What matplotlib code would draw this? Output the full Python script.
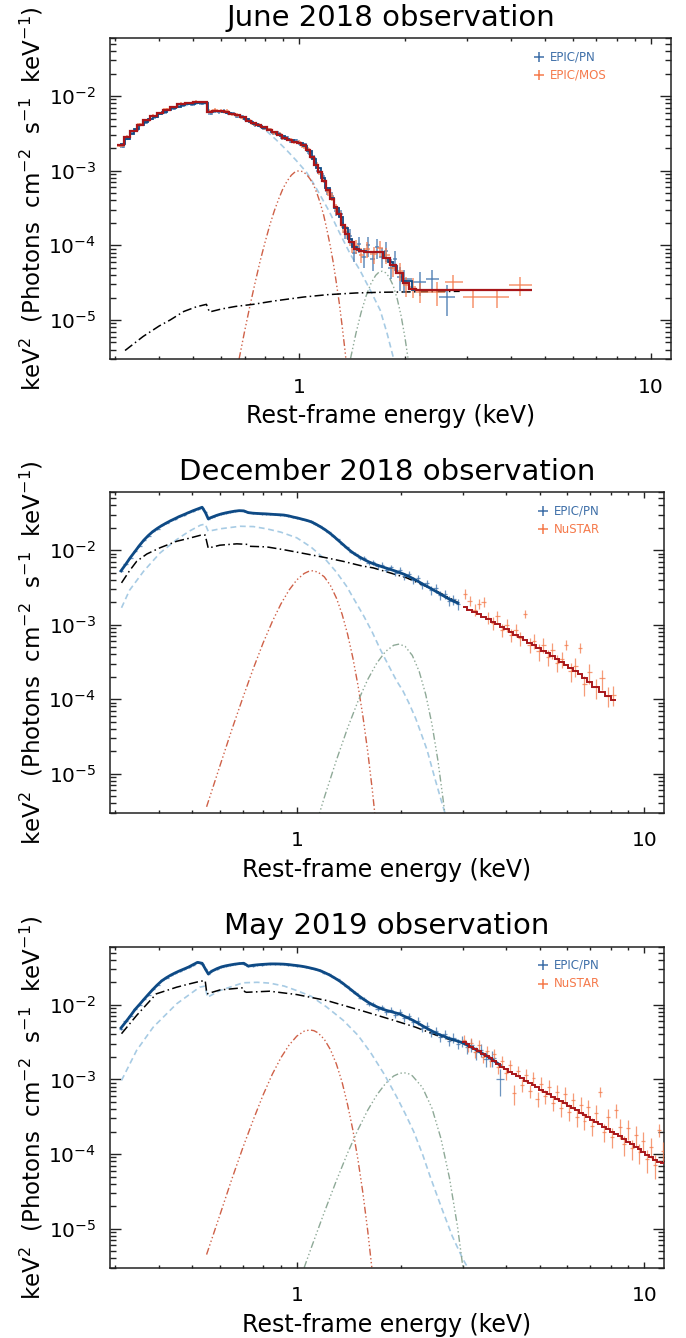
import numpy as np
import matplotlib
matplotlib.use('Agg')
import matplotlib.pyplot as plt
from matplotlib.ticker import LogLocator, NullFormatter

plt.rcParams['font.family'] = ['DejaVu Sans']
plt.rcParams['mathtext.default'] = 'regular'

# ---------------------------------------------------------------- June 2018
jun_pn_e = [0.315, 0.325, 0.335, 0.345, 0.356, 0.367, 0.378, 0.390, 0.402, 0.414, 0.427, 0.440, 0.454, 0.468, 0.482, 0.497, 0.512, 0.528, 0.544,
            0.560, 0.576, 0.593, 0.611, 0.629, 0.648, 0.667, 0.687, 0.708, 0.729, 0.751, 0.773, 0.796, 0.820, 0.845, 0.870, 0.896, 0.923, 0.950, 0.979, 1.008,
            1.038, 1.069, 1.101, 1.134, 1.168, 1.203, 1.239, 1.276, 1.314, 1.354, 1.394, 1.436, 1.479, 1.524, 1.570, 1.617, 1.665, 1.715, 1.767, 1.820, 1.875, 1.930, 1.990,
            2.210, 2.380, 2.630]
jun_pn_f = [2.1e-3, 2.65e-3, 3.2e-3, 3.5e-3, 4.1e-3, 4.4e-3, 4.95e-3, 5.2e-3, 5.8e-3, 6.0e-3, 6.55e-3, 6.7e-3, 7.3e-3, 7.4e-3, 7.8e-3, 7.7e-3, 8.1e-3, 7.9e-3, 8.1e-3,
            5.8e-3, 6.3e-3, 6.1e-3, 6.3e-3, 5.85e-3, 5.9e-3, 5.3e-3, 5.35e-3, 4.75e-3, 4.6e-3, 4.1e-3, 4.05e-3, 3.65e-3, 3.6e-3, 3.2e-3, 3.2e-3, 2.75e-3, 2.8e-3, 2.45e-3, 2.55e-3, 2.25e-3,
            2.25e-3, 1.75e-3, 1.5e-3, 1.0e-3, 8.6e-4, 5.4e-4, 4.6e-4, 2.9e-4, 2.6e-4, 1.5e-4, 1.35e-4, 8.0e-5, 1.05e-4, 7.0e-5, 1.0e-4, 6.5e-5, 9.5e-5, 7.0e-5, 8.5e-5, 5.0e-5, 6.5e-5, 3.8e-5, 3.5e-5,
            3.24e-5, 3.59e-5, 2.04e-5]
jun_pn_err = [0.04, 0.04, 0.04, 0.04, 0.04, 0.04, 0.04, 0.04, 0.04, 0.04, 0.04, 0.04, 0.04, 0.04, 0.04, 0.04, 0.04, 0.04, 0.04,
              0.05, 0.05, 0.05, 0.05, 0.05, 0.05, 0.05, 0.05, 0.05, 0.05, 0.05, 0.05, 0.05, 0.05, 0.05, 0.05, 0.05, 0.05, 0.05, 0.05, 0.05,
              0.06, 0.07, 0.08, 0.1, 0.1, 0.12, 0.13, 0.15, 0.16, 0.2, 0.22, 0.25, 0.25, 0.3, 0.3, 0.3, 0.3, 0.3, 0.3, 0.3, 0.3, 0.35, 0.35,
              0.35, 0.3, 0.45]
jun_pn_mod = [2.25e-3, 2.7e-3, 3.15e-3, 3.6e-3, 4.05e-3, 4.5e-3, 4.9e-3, 5.3e-3, 5.7e-3, 6.1e-3, 6.5e-3, 6.85e-3, 7.2e-3, 7.5e-3, 7.75e-3, 7.9e-3, 8.0e-3, 8.05e-3, 8.0e-3,
              6.1e-3, 6.25e-3, 6.3e-3, 6.2e-3, 6.0e-3, 5.75e-3, 5.5e-3, 5.25e-3, 4.9e-3, 4.55e-3, 4.25e-3, 4.0e-3, 3.78e-3, 3.55e-3, 3.35e-3, 3.1e-3, 2.9e-3, 2.7e-3, 2.55e-3, 2.45e-3, 2.33e-3,
              2.15e-3, 1.85e-3, 1.45e-3, 1.08e-3, 8.0e-4, 5.9e-4, 4.3e-4, 3.2e-4, 2.4e-4, 1.7e-4, 1.2e-4, 9.5e-5, 8.6e-5, 8.3e-5, 8.2e-5, 8.2e-5, 8.2e-5, 8.1e-5, 6.8e-5, 6.0e-5, 5.3e-5, 4.3e-5, 3.3e-5,
              2.55e-5, 2.5e-5, 2.5e-5]

jun_mos_e = [0.310, 0.324, 0.338, 0.353, 0.369, 0.385, 0.402, 0.420, 0.440, 0.462, 0.486, 0.510, 0.535,
             0.556, 0.578, 0.600, 0.622, 0.645, 0.668, 0.692, 0.717, 0.742, 0.768, 0.795, 0.822, 0.850, 0.880, 0.910, 0.940, 0.970, 1.000,
             1.030, 1.060, 1.090, 1.120, 1.150, 1.180, 1.210, 1.240, 1.270, 1.300, 1.335, 1.370, 1.410, 1.450, 1.500, 1.560, 1.630, 1.700, 1.770, 1.850, 1.930, 2.010, 2.100, 2.200,
             2.460, 2.740, 3.110, 3.650, 4.250]
jun_mos_f = [2.15e-3, 2.85e-3, 3.4e-3, 4.2e-3, 4.7e-3, 5.45e-3, 5.9e-3, 6.75e-3, 7.0e-3, 7.95e-3, 8.1e-3, 8.45e-3, 8.2e-3,
             6.3e-3, 6.6e-3, 6.3e-3, 6.35e-3, 5.7e-3, 5.6e-3, 5.1e-3, 4.8e-3, 4.2e-3, 4.15e-3, 3.7e-3, 3.6e-3, 3.2e-3, 3.1e-3, 2.7e-3, 2.65e-3, 2.4e-3, 2.45e-3,
             2.1e-3, 1.95e-3, 1.5e-3, 1.25e-3, 9.0e-4, 7.6e-4, 5.2e-4, 4.5e-4, 3.1e-4, 2.8e-4, 1.75e-4, 1.5e-4, 1.0e-4, 9.8e-5, 7.5e-5, 9.0e-5, 7.6e-5, 9.2e-5, 7.4e-5, 5.0e-5, 4.6e-5, 2.9e-5, 2.8e-5, 2.4e-5,
             2.38e-5, 3.24e-5, 2.04e-5, 2.04e-5, 2.92e-5]
jun_mos_err = [0.04, 0.04, 0.04, 0.04, 0.04, 0.04, 0.04, 0.04, 0.04, 0.04, 0.04, 0.04, 0.04,
               0.05, 0.05, 0.05, 0.05, 0.05, 0.05, 0.05, 0.05, 0.05, 0.05, 0.05, 0.05, 0.05, 0.05, 0.05, 0.05, 0.05, 0.05,
               0.06, 0.06, 0.07, 0.08, 0.09, 0.1, 0.11, 0.12, 0.14, 0.15, 0.17, 0.2, 0.2, 0.22, 0.22, 0.25, 0.25, 0.25, 0.25, 0.25, 0.28, 0.3, 0.3, 0.3,
               0.35, 0.25, 0.28, 0.28, 0.28]
jun_mos_mod = [2.2e-3, 2.8e-3, 3.45e-3, 4.1e-3, 4.75e-3, 5.35e-3, 6.0e-3, 6.6e-3, 7.15e-3, 7.8e-3, 8.2e-3, 8.3e-3, 8.35e-3,
               6.2e-3, 6.4e-3, 6.4e-3, 6.2e-3, 5.8e-3, 5.5e-3, 5.2e-3, 4.7e-3, 4.3e-3, 4.05e-3, 3.8e-3, 3.5e-3, 3.3e-3, 3.0e-3, 2.75e-3, 2.55e-3, 2.45e-3, 2.35e-3,
               2.2e-3, 1.9e-3, 1.55e-3, 1.2e-3, 9.5e-4, 7.2e-4, 5.5e-4, 4.2e-4, 3.3e-4, 2.65e-4, 1.9e-4, 1.4e-4, 1.1e-4, 9.0e-5, 8.4e-5, 8.2e-5, 8.2e-5, 8.2e-5, 6.7e-5, 5.4e-5, 4.2e-5, 3.1e-5, 2.6e-5, 2.55e-5,
               2.5e-5, 2.5e-5, 2.5e-5, 2.5e-5, 2.5e-5]

jun_soft_e = [0.31, 0.35, 0.40, 0.45, 0.50, 0.545, 0.556, 0.60, 0.65, 0.70, 0.75, 0.80, 0.86, 0.92, 0.98, 1.05, 1.10, 1.16, 1.22, 1.30, 1.40, 1.49, 1.60, 1.70, 1.78, 1.85, 1.88]
jun_soft_f = [2.1e-3, 3.9e-3, 5.8e-3, 7.1e-3, 7.8e-3, 7.9e-3, 6.0e-3, 6.2e-3, 5.6e-3, 5.0e-3, 4.2e-3, 3.55e-3, 2.6e-3, 1.9e-3, 1.38e-3, 9.5e-4, 6.7e-4, 4.3e-4, 2.8e-4, 1.5e-4, 7.5e-5, 4.6e-5, 2.4e-5, 1.35e-5, 6.5e-6, 3.2e-6, 2.5e-6]
jun_g1_e = [0.675, 0.70, 0.725, 0.75, 0.775, 0.80, 0.825, 0.85, 0.875, 0.90, 0.925, 0.95, 0.975, 1.00, 1.025, 1.05, 1.075, 1.10, 1.125, 1.15, 1.175, 1.20, 1.225, 1.25, 1.275, 1.30, 1.325, 1.35, 1.37]
jun_g1_f = [3.0e-6, 7.1e-6, 1.56e-5, 3.2e-5, 6.2e-5, 1.1e-4, 1.86e-4, 2.9e-4, 4.2e-4, 5.8e-4, 7.3e-4, 8.7e-4, 9.7e-4, 1.0e-3, 9.7e-4, 8.9e-4, 7.7e-4, 6.4e-4, 4.9e-4, 3.6e-4, 2.5e-4, 1.6e-4, 1.0e-4, 5.9e-5, 3.2e-5, 1.7e-5, 8.3e-6, 3.9e-6, 2.0e-6]
jun_g2_e = [1.40, 1.45, 1.50, 1.55, 1.60, 1.65, 1.685, 1.72, 1.76, 1.80, 1.85, 1.90, 1.95, 2.00, 2.06]
jun_g2_f = [3.06e-6, 6.6e-6, 1.26e-5, 2.1e-5, 3.08e-5, 3.96e-5, 4.36e-5, 4.5e-5, 4.3e-5, 3.8e-5, 2.9e-5, 1.92e-5, 1.12e-5, 5.7e-6, 2.2e-6]
jun_pl_e = [0.32, 0.36, 0.40, 0.43, 0.47, 0.51, 0.545, 0.556, 0.60, 0.66, 0.74, 0.85, 1.03, 1.20, 1.45, 1.70, 1.94, 2.40, 2.86]
jun_pl_f = [3.9e-6, 6.0e-6, 8.3e-6, 1.0e-5, 1.3e-5, 1.5e-5, 1.62e-5, 1.28e-5, 1.4e-5, 1.52e-5, 1.62e-5, 1.8e-5, 2.03e-5, 2.18e-5, 2.3e-5, 2.35e-5, 2.37e-5, 2.4e-5, 2.42e-5]

# ------------------------------------------------------------ December 2018
dec_pn_e = [0.312, 0.322, 0.332, 0.342, 0.352, 0.363, 0.374, 0.385, 0.397, 0.409, 0.421, 0.434, 0.447, 0.460, 0.474, 0.488, 0.503, 0.518, 0.534, 0.546,
            0.556, 0.572, 0.589, 0.607, 0.625, 0.644, 0.663, 0.683, 0.704, 0.725, 0.747, 0.769, 0.792, 0.816, 0.840, 0.866, 0.892, 0.918, 0.946, 0.974,
            1.003, 1.034, 1.065, 1.097, 1.130, 1.163, 1.198, 1.234, 1.271, 1.309, 1.349, 1.389, 1.431, 1.474, 1.518, 1.563, 1.610, 1.659, 1.708, 1.760,
            1.812, 1.867, 1.923, 1.981, 2.040, 2.101, 2.164, 2.229, 2.296, 2.365, 2.436, 2.509, 2.584, 2.662, 2.742, 2.824, 2.909]
dec_pn_f = [5.2e-3, 6.6e-3, 7.9e-3, 9.8e-3, 1.13e-2, 1.39e-2, 1.56e-2, 1.8e-2, 1.95e-2, 2.17e-2, 2.3e-2, 2.52e-2, 2.65e-2, 2.87e-2, 3.0e-2, 3.22e-2, 3.37e-2, 3.6e-2, 3.75e-2, 3.25e-2,
            2.62e-2, 2.82e-2, 2.93e-2, 3.1e-2, 3.15e-2, 3.3e-2, 3.33e-2, 3.42e-2, 3.36e-2, 3.22e-2, 3.13e-2, 3.14e-2, 3.08e-2, 3.1e-2, 3.03e-2, 3.04e-2, 2.98e-2, 2.99e-2, 2.88e-2, 2.82e-2,
            2.7e-2, 2.64e-2, 2.51e-2, 2.44e-2, 2.25e-2, 2.12e-2, 1.91e-2, 1.77e-2, 1.55e-2, 1.41e-2, 1.21e-2, 1.11e-2, 9.5e-3, 9.0e-3, 7.9e-3, 7.8e-3, 6.8e-3, 6.9e-3, 6.1e-3, 6.4e-3,
            5.5e-3, 5.9e-3, 5.0e-3, 5.4e-3, 4.5e-3, 4.8e-3, 4.0e-3, 4.2e-3, 3.4e-3, 3.6e-3, 2.9e-3, 3.1e-3, 2.5e-3, 2.6e-3, 2.1e-3, 2.2e-3, 1.9e-3]
dec_pn_err = [0.03, 0.03, 0.03, 0.03, 0.03, 0.03, 0.03, 0.03, 0.03, 0.03, 0.03, 0.03, 0.03, 0.03, 0.03, 0.03, 0.03, 0.03, 0.03, 0.03,
              0.03, 0.03, 0.03, 0.03, 0.03, 0.03, 0.03, 0.03, 0.03, 0.03, 0.03, 0.03, 0.03, 0.03, 0.03, 0.03, 0.03, 0.03, 0.03, 0.03,
              0.03, 0.03, 0.03, 0.03, 0.03, 0.03, 0.03, 0.03, 0.03, 0.03, 0.03, 0.03, 0.04, 0.05, 0.05, 0.06, 0.06, 0.07, 0.07, 0.08,
              0.08, 0.09, 0.09, 0.1, 0.1, 0.1, 0.11, 0.11, 0.12, 0.12, 0.13, 0.13, 0.14, 0.14, 0.15, 0.15, 0.16]
dec_pn_mod = [5.3e-3, 6.5e-3, 8.0e-3, 9.6e-3, 1.15e-2, 1.37e-2, 1.58e-2, 1.78e-2, 1.97e-2, 2.15e-2, 2.32e-2, 2.5e-2, 2.67e-2, 2.85e-2, 3.02e-2, 3.2e-2, 3.4e-2, 3.58e-2, 3.78e-2, 3.2e-2,
              2.65e-2, 2.8e-2, 2.95e-2, 3.08e-2, 3.18e-2, 3.27e-2, 3.35e-2, 3.4e-2, 3.38e-2, 3.2e-2, 3.15e-2, 3.12e-2, 3.1e-2, 3.08e-2, 3.05e-2, 3.02e-2, 3.0e-2, 2.97e-2, 2.9e-2, 2.8e-2,
              2.72e-2, 2.62e-2, 2.53e-2, 2.42e-2, 2.27e-2, 2.1e-2, 1.93e-2, 1.75e-2, 1.57e-2, 1.39e-2, 1.23e-2, 1.09e-2, 9.7e-3, 8.8e-3, 8.1e-3, 7.5e-3, 7.0e-3, 6.6e-3, 6.3e-3, 6.0e-3,
              5.75e-3, 5.5e-3, 5.25e-3, 5.0e-3, 4.75e-3, 4.45e-3, 4.15e-3, 3.85e-3, 3.55e-3, 3.3e-3, 3.05e-3, 2.82e-3, 2.6e-3, 2.4e-3, 2.22e-3, 2.07e-3, 1.95e-3]

dec_nu_e = [3.05, 3.15, 3.25, 3.35, 3.45, 3.56, 3.67, 3.78, 3.90, 4.02, 4.14, 4.27, 4.40, 4.54, 4.68, 4.82,
            4.97, 5.12, 5.28, 5.44, 5.61, 5.78, 5.96, 6.14, 6.33, 6.53, 6.73, 6.94, 7.25, 7.55, 7.85, 8.15]
dec_nu_f = [2.6e-3, 2.1e-3, 1.6e-3, 1.9e-3, 2.05e-3, 1.25e-3, 1.05e-3, 1.3e-3, 8.6e-4, 1.0e-3, 7.3e-4, 8.6e-4, 6.6e-4, 1.4e-3, 5.4e-4, 6.1e-4,
            4.4e-4, 5.4e-4, 3.7e-4, 4.6e-4, 3.1e-4, 3.5e-4, 5.4e-4, 2.4e-4, 2.8e-4, 4.9e-4, 1.6e-4, 2.3e-4, 1.45e-4, 1.9e-4, 1.12e-4, 1.15e-4]
dec_nu_err = [0.15, 0.15, 0.18, 0.15, 0.15, 0.18, 0.2, 0.18, 0.2, 0.2, 0.2, 0.2, 0.22, 0.12, 0.22, 0.22,
              0.25, 0.22, 0.25, 0.25, 0.25, 0.25, 0.15, 0.28, 0.28, 0.15, 0.3, 0.3, 0.3, 0.3, 0.3, 0.3]
dec_nu_mod = [1.75e-3, 1.6e-3, 1.5e-3, 1.39e-3, 1.29e-3, 1.19e-3, 1.1e-3, 1.02e-3, 9.4e-4, 8.7e-4, 8.0e-4, 7.4e-4, 6.8e-4, 6.25e-4, 5.75e-4, 5.3e-4,
              4.9e-4, 4.5e-4, 4.15e-4, 3.8e-4, 3.5e-4, 3.2e-4, 2.9e-4, 2.62e-4, 2.37e-4, 2.15e-4, 1.93e-4, 1.72e-4, 1.45e-4, 1.25e-4, 1.1e-4, 9.9e-5]

dec_soft_e = [0.313, 0.33, 0.362, 0.404, 0.451, 0.49, 0.528, 0.545, 0.556, 0.601, 0.687, 0.75, 0.819, 0.90, 1.0, 1.1, 1.22, 1.30, 1.39, 1.47,
              1.56, 1.65, 1.74, 1.84, 1.94, 2.02, 2.10, 2.20, 2.30, 2.37, 2.50, 2.60, 2.68]
dec_soft_f = [1.69e-3, 2.9e-3, 5.2e-3, 9.2e-3, 1.39e-2, 1.8e-2, 2.17e-2, 2.25e-2, 1.8e-2, 1.94e-2, 2.1e-2, 2.08e-2, 1.94e-2, 1.75e-2, 1.47e-2, 1.1e-2, 7.2e-3, 5.1e-3, 3.3e-3, 2.1e-3,
              1.3e-3, 7.9e-4, 4.65e-4, 2.8e-4, 1.75e-4, 1.3e-4, 9.0e-5, 5.5e-5, 3.1e-5, 2.1e-5, 8.5e-6, 4.5e-6, 2.8e-6]
dec_g1_e = [0.55, 0.60, 0.65, 0.70, 0.75, 0.80, 0.85, 0.90, 0.95, 1.00, 1.05, 1.08, 1.11, 1.15, 1.20, 1.25, 1.30, 1.35, 1.40, 1.45, 1.50, 1.55, 1.60, 1.65, 1.70]
dec_g1_f = [3.6e-6, 1.25e-5, 3.9e-5, 1.06e-4, 2.6e-4, 5.7e-4, 1.1e-3, 1.9e-3, 2.92e-3, 4.0e-3, 4.88e-3, 5.19e-3, 5.3e-3, 5.1e-3, 4.4e-3, 3.36e-3, 2.29e-3, 1.39e-3, 7.5e-4, 3.6e-4, 1.54e-4, 5.9e-5, 2.0e-5, 6.0e-6, 1.6e-6]
dec_g2_e = [1.15, 1.20, 1.30, 1.40, 1.50, 1.60, 1.70, 1.80, 1.90, 1.97, 2.05, 2.15, 2.25, 2.35, 2.45, 2.55, 2.65, 2.70]
dec_g2_f = [2.5e-6, 4.8e-6, 1.52e-5, 4.1e-5, 9.4e-5, 1.84e-4, 3.07e-4, 4.37e-4, 5.3e-4, 5.5e-4, 5.13e-4, 3.88e-4, 2.37e-4, 1.16e-4, 4.6e-5, 1.47e-5, 3.8e-6, 1.8e-6]
dec_pl_e = [0.313, 0.33, 0.346, 0.37, 0.404, 0.451, 0.49, 0.528, 0.545, 0.556, 0.601, 0.672, 0.72, 0.733, 0.819, 0.915, 1.09, 1.22, 1.36, 1.53, 1.66, 2.07, 2.50, 2.92]
dec_pl_f = [3.65e-3, 5.3e-3, 7.1e-3, 8.9e-3, 1.08e-2, 1.32e-2, 1.45e-2, 1.59e-2, 1.6e-2, 1.07e-2, 1.17e-2, 1.22e-2, 1.2e-2, 1.13e-2, 1.11e-2, 1.02e-2, 8.75e-3, 7.9e-3, 7.1e-3, 6.2e-3, 5.8e-3, 4.27e-3, 2.9e-3, 1.97e-3]

# ----------------------------------------------------------------- May 2019
may_pn_e = [0.312, 0.322, 0.332, 0.342, 0.352, 0.363, 0.374, 0.385, 0.397, 0.409, 0.421, 0.434, 0.447, 0.460, 0.474, 0.488, 0.503, 0.518, 0.534, 0.546,
            0.556, 0.572, 0.589, 0.607, 0.625, 0.644, 0.663, 0.683, 0.704, 0.725, 0.747, 0.769, 0.792, 0.816, 0.840, 0.866, 0.892, 0.918, 0.946, 0.974,
            1.003, 1.034, 1.065, 1.097, 1.130, 1.163, 1.198, 1.234, 1.271, 1.309, 1.349, 1.389, 1.431, 1.474, 1.518, 1.563, 1.610, 1.659, 1.708, 1.760,
            1.812, 1.867, 1.923, 1.981, 2.040, 2.101, 2.164, 2.229, 2.296, 2.365, 2.436, 2.509, 2.584, 2.662, 2.742, 2.824, 2.909,
            2.996, 3.086, 3.180, 3.280, 3.380, 3.500, 3.650, 3.850]
may_pn_f = [4.8e-3, 6.0e-3, 7.0e-3, 8.8e-3, 9.8e-3, 1.2e-2, 1.36e-2, 1.62e-2, 1.83e-2, 2.12e-2, 2.28e-2, 2.52e-2, 2.66e-2, 2.87e-2, 3.0e-2, 3.23e-2, 3.42e-2, 3.72e-2, 3.57e-2, 3.05e-2,
            2.57e-2, 2.88e-2, 3.02e-2, 3.25e-2, 3.3e-2, 3.45e-2, 3.47e-2, 3.59e-2, 3.57e-2, 3.33e-2, 3.35e-2, 3.46e-2, 3.44e-2, 3.53e-2, 3.5e-2, 3.56e-2, 3.49e-2, 3.53e-2, 3.43e-2, 3.43e-2,
            3.32e-2, 3.31e-2, 3.17e-2, 3.13e-2, 2.97e-2, 2.91e-2, 2.69e-2, 2.58e-2, 2.33e-2, 2.2e-2, 1.95e-2, 1.81e-2, 1.57e-2, 1.46e-2, 1.25e-2, 1.21e-2, 1.03e-2, 1.03e-2, 8.9e-3, 9.2e-3,
            8.0e-3, 8.6e-3, 7.4e-3, 8.0e-3, 6.6e-3, 7.0e-3, 5.8e-3, 6.1e-3, 4.9e-3, 5.2e-3, 4.2e-3, 4.5e-3, 3.7e-3, 4.0e-3, 3.3e-3, 3.6e-3, 3.0e-3,
            3.3e-3, 2.7e-3, 2.9e-3, 2.3e-3, 2.5e-3, 1.9e-3, 1.95e-3, 1.0e-3]
may_pn_err = [0.03, 0.03, 0.03, 0.03, 0.03, 0.03, 0.03, 0.03, 0.03, 0.03, 0.03, 0.03, 0.03, 0.03, 0.03, 0.03, 0.03, 0.03, 0.03, 0.03,
              0.03, 0.03, 0.03, 0.03, 0.03, 0.03, 0.03, 0.03, 0.03, 0.03, 0.03, 0.03, 0.03, 0.03, 0.03, 0.03, 0.03, 0.03, 0.03, 0.03,
              0.03, 0.03, 0.03, 0.03, 0.03, 0.03, 0.03, 0.03, 0.03, 0.03, 0.03, 0.03, 0.04, 0.04, 0.05, 0.05, 0.06, 0.06, 0.07, 0.07,
              0.08, 0.08, 0.09, 0.09, 0.1, 0.1, 0.11, 0.11, 0.12, 0.12, 0.13, 0.13, 0.14, 0.14, 0.15, 0.15, 0.16,
              0.17, 0.18, 0.19, 0.2, 0.21, 0.22, 0.24, 0.4]
may_pn_mod = [4.9e-3, 5.9e-3, 7.1e-3, 8.6e-3, 1.0e-2, 1.18e-2, 1.38e-2, 1.6e-2, 1.85e-2, 2.1e-2, 2.3e-2, 2.5e-2, 2.68e-2, 2.85e-2, 3.02e-2, 3.2e-2, 3.45e-2, 3.7e-2, 3.6e-2, 3.0e-2,
              2.6e-2, 2.85e-2, 3.05e-2, 3.22e-2, 3.33e-2, 3.42e-2, 3.5e-2, 3.56e-2, 3.6e-2, 3.3e-2, 3.38e-2, 3.43e-2, 3.47e-2, 3.5e-2, 3.53e-2, 3.53e-2, 3.52e-2, 3.5e-2, 3.46e-2, 3.4e-2,
              3.35e-2, 3.28e-2, 3.2e-2, 3.1e-2, 3.0e-2, 2.88e-2, 2.72e-2, 2.55e-2, 2.36e-2, 2.17e-2, 1.98e-2, 1.78e-2, 1.6e-2, 1.43e-2, 1.29e-2, 1.17e-2, 1.07e-2, 9.9e-3, 9.3e-3, 8.8e-3,
              8.4e-3, 8.1e-3, 7.8e-3, 7.5e-3, 7.0e-3, 6.6e-3, 6.15e-3, 5.7e-3, 5.25e-3, 4.85e-3, 4.5e-3, 4.2e-3, 3.95e-3, 3.75e-3, 3.55e-3, 3.4e-3, 3.25e-3,
              3.1e-3, 2.9e-3, 2.7e-3, 2.5e-3, 2.3e-3, 2.1e-3, 1.85e-3, 1.55e-3]

may_nu_e = [3.02, 3.10, 3.18, 3.26, 3.34, 3.43, 3.52, 3.61, 3.70, 3.80, 3.90, 4.00, 4.11, 4.22, 4.33, 4.44, 4.56, 4.68, 4.80, 4.93,
            5.06, 5.19, 5.33, 5.47, 5.61, 5.76, 5.91, 6.07, 6.23, 6.39, 6.56, 6.73, 6.91, 7.09, 7.28, 7.47, 7.67, 7.87, 8.08, 8.29,
            8.51, 8.73, 8.96, 9.20, 9.44, 9.69, 9.95, 10.21, 10.48, 10.76, 11.04, 11.33]
may_nu_f = [3.4e-3, 2.7e-3, 3.1e-3, 2.3e-3, 2.9e-3, 2.0e-3, 2.4e-3, 1.75e-3, 2.2e-3, 1.45e-3, 1.75e-3, 1.2e-3, 1.55e-3, 6.5e-4, 1.3e-3, 8.5e-4, 1.15e-3, 7.0e-4, 1.05e-3, 5.5e-4,
            8.8e-4, 6.0e-4, 8.0e-4, 4.8e-4, 6.8e-4, 4.2e-4, 6.3e-4, 3.7e-4, 5.3e-4, 3.1e-4, 4.6e-4, 2.8e-4, 4.3e-4, 2.4e-4, 3.6e-4, 6.8e-4, 2.0e-4, 3.1e-4, 1.7e-4, 3.85e-4,
            2.3e-4, 1.35e-4, 2.2e-4, 1.2e-4, 1.8e-4, 1.05e-4, 1.5e-4, 8.5e-5, 1.25e-4, 7.2e-5, 2.1e-4, 1.1e-4]
may_nu_err = [0.15, 0.15, 0.15, 0.15, 0.15, 0.17, 0.17, 0.17, 0.17, 0.18, 0.18, 0.18, 0.18, 0.3, 0.18, 0.2, 0.2, 0.2, 0.2, 0.22,
              0.22, 0.22, 0.22, 0.22, 0.22, 0.25, 0.25, 0.25, 0.25, 0.25, 0.25, 0.25, 0.25, 0.28, 0.28, 0.15, 0.28, 0.28, 0.3, 0.2,
              0.3, 0.3, 0.3, 0.3, 0.3, 0.3, 0.3, 0.35, 0.3, 0.35, 0.2, 0.3]
may_nu_mod = [3.15e-3, 2.95e-3, 2.75e-3, 2.57e-3, 2.4e-3, 2.22e-3, 2.06e-3, 1.92e-3, 1.75e-3, 1.6e-3, 1.48e-3, 1.37e-3, 1.27e-3, 1.18e-3, 1.1e-3, 1.03e-3, 9.6e-4, 9.0e-4, 8.4e-4, 7.9e-4,
              7.3e-4, 6.8e-4, 6.3e-4, 5.9e-4, 5.5e-4, 5.1e-4, 4.8e-4, 4.45e-4, 4.15e-4, 3.85e-4, 3.6e-4, 3.35e-4, 3.1e-4, 2.9e-4, 2.7e-4, 2.5e-4, 2.33e-4, 2.17e-4, 2.0e-4, 1.86e-4,
              1.72e-4, 1.6e-4, 1.47e-4, 1.36e-4, 1.26e-4, 1.16e-4, 1.07e-4, 9.8e-5, 9.0e-5, 8.2e-5, 7.8e-5, 7.5e-5]

may_soft_e = [0.313, 0.346, 0.386, 0.451, 0.525, 0.545, 0.553, 0.601, 0.70, 0.77, 0.836, 0.92, 1.0, 1.1, 1.22, 1.36, 1.50, 1.63, 1.78, 1.94, 2.05, 2.17, 2.30, 2.42, 2.60, 2.80, 3.00, 3.13]
may_soft_f = [9.7e-4, 2.45e-3, 5.0e-3, 1.03e-2, 1.72e-2, 1.78e-2, 1.26e-2, 1.55e-2, 1.97e-2, 2.0e-2, 1.95e-2, 1.78e-2, 1.55e-2, 1.3e-2, 9.3e-3, 6.2e-3, 3.9e-3, 2.3e-3, 1.2e-3, 5.8e-4, 3.5e-4, 2.0e-4, 1.0e-4, 5.0e-5, 2.0e-5, 8e-6, 4e-6, 2.8e-6]
may_g1_e = [0.55, 0.60, 0.65, 0.70, 0.75, 0.80, 0.85, 0.90, 0.95, 1.00, 1.05, 1.09, 1.12, 1.15, 1.20, 1.25, 1.30, 1.35, 1.40, 1.45, 1.50, 1.55, 1.60, 1.65, 1.70]
may_g1_f = [4.5e-6, 1.5e-5, 4.6e-5, 1.23e-4, 2.9e-4, 6.2e-4, 1.17e-3, 1.95e-3, 2.88e-3, 3.8e-3, 4.43e-3, 4.6e-3, 4.5e-3, 4.22e-3, 3.45e-3, 2.5e-3, 1.61e-3, 9.2e-4, 4.6e-4, 2.1e-4, 8.4e-5, 3.0e-5, 9.4e-6, 2.6e-6, 6.6e-7]
may_g2_e = [1.05, 1.10, 1.20, 1.30, 1.40, 1.50, 1.60, 1.70, 1.80, 1.90, 1.97, 2.03, 2.09, 2.15, 2.30, 2.45, 2.60, 2.75, 2.90, 3.05]
may_g2_f = [3.0e-6, 5.5e-6, 1.66e-5, 4.4e-5, 1.03e-4, 2.12e-4, 3.87e-4, 6.2e-4, 8.8e-4, 1.11e-3, 1.2e-3, 1.23e-3, 1.2e-3, 1.12e-3, 7.8e-4, 4.1e-4, 1.61e-4, 4.8e-5, 1.08e-5, 1.85e-6]
may_pl_e = [0.313, 0.346, 0.394, 0.451, 0.49, 0.528, 0.545, 0.551, 0.601, 0.70, 0.708, 0.716, 0.836, 1.0, 1.22, 1.53, 1.90, 2.20, 2.58, 3.0]
may_pl_f = [4.1e-3, 7.2e-3, 1.4e-2, 1.72e-2, 1.9e-2, 2.07e-2, 2.1e-2, 1.4e-2, 1.58e-2, 1.69e-2, 1.5e-2, 1.47e-2, 1.52e-2, 1.37e-2, 1.14e-2, 8.4e-3, 6.2e-3, 5.0e-3, 3.75e-3, 3.05e-3]

# colours
PN_DATA = '#4779b0'
PN_MODEL = '#0e4a85'
HE_DATA = '#f47b4b'
HE_MODEL = '#a8161a'
SOFT_COL = '#a7cbe4'
G1_COL = '#cf6148'
G2_COL = '#8ea997'

W, H = 686, 1338


def bin_edges(e):
    e = np.asarray(e, dtype=float)
    mid = np.sqrt(e[:-1] * e[1:])
    return np.concatenate([[e[0] ** 2 / mid[0]], mid, [e[-1] ** 2 / mid[-1]]])


def draw_data(ax, e, f, err, color, alpha, lw):
    e = np.asarray(e, dtype=float)
    f = np.asarray(f, dtype=float)
    ed = bin_edges(e)
    ax.errorbar(e, f, yerr=f * np.asarray(err), xerr=[e - ed[:-1], ed[1:] - e],
                fmt='none', ecolor=color, elinewidth=lw, alpha=alpha, capsize=0, zorder=3)


def draw_model(ax, e, m, color, lw, steps=True):
    if steps:
        ax.stairs(m, bin_edges(e), color=color, lw=lw, baseline=None, zorder=5)
    else:
        ax.plot(e, m, color=color, lw=lw, zorder=5)


def draw_components(ax, soft, g1, g2, pl):
    ax.plot(*soft, color=SOFT_COL, lw=1.2, ls=(0, (3.5, 2.2)), zorder=2)
    ax.plot(*g1, color=G1_COL, lw=1.0, ls=(0, (5, 1.8, 1, 1.8, 1, 1.8, 1, 1.8)), zorder=2)
    ax.plot(*g2, color=G2_COL, lw=1.0, ls=(0, (5, 1.8, 1, 1.8, 1, 1.8, 1, 1.8)), zorder=2)
    ax.plot(*pl, color='black', lw=1.1, ls=(0, (6, 2.2, 1, 2.2)), zorder=2)


def style_axes(ax, title, labels, wpx, hpx, xleg):
    ax.set_xscale('log')
    ax.set_yscale('log')
    ax.set_xlim(0.29, 11.4)
    ax.set_ylim(3e-6, 6e-2)
    ax.set_xticks([1, 10])
    ax.set_xticklabels(['1', '10'])
    ax.xaxis.set_minor_locator(LogLocator(base=10, subs=np.arange(2, 10) * 1.0, numticks=12))
    ax.xaxis.set_minor_formatter(NullFormatter())
    ax.yaxis.set_major_locator(LogLocator(base=10, numticks=12))
    ax.yaxis.set_minor_locator(LogLocator(base=10, subs=np.arange(2, 10) * 1.0, numticks=12))
    ax.yaxis.set_minor_formatter(NullFormatter())
    ax.tick_params(which='both', direction='in', top=True, right=True, width=1.0, color='#222222')
    ax.tick_params(axis='x', which='major', length=4.6, pad=13.5, labelsize=14.5)
    ax.tick_params(axis='x', which='minor', length=2.4)
    ax.tick_params(axis='y', which='major', length=7.9, pad=10, labelsize=14.5)
    ax.tick_params(axis='y', which='minor', length=4.0)
    for sp in ax.spines.values():
        sp.set_linewidth(1.1)
        sp.set_color('#222222')
    ax.set_title(title, fontsize=21, pad=9)
    ax.set_xlabel('Rest-frame energy (keV)', fontsize=17)
    ax.xaxis.set_label_coords(0.5, -64.0 / hpx)
    ax.xaxis.label.set_va('baseline')
    ax.set_ylabel('keV$^2$  (Photons  cm$^{-2}$  s$^{-1}$  keV$^{-1}$)', fontsize=16.5)
    ax.yaxis.set_label_coords(-78.0 / wpx, 0.5)
    ax.yaxis.label.set_va('center')
    for k, (lab, col) in enumerate(zip(labels, ['#3e6fa8', '#f57a4c'])):
        y = 0.942 - 0.057 * k
        ax.plot([xleg], [y], marker='+', ms=7, mew=1.1, color=col, transform=ax.transAxes)
        ax.text(xleg + 0.019, y, lab, color=col, fontsize=8.5, va='center', ha='left',
                transform=ax.transAxes)


fig = plt.figure(figsize=(W / 100, H / 100), dpi=100)

# June 2018
ax1 = fig.add_axes([110 / W, (H - 359) / H, 561 / W, 321 / H])
draw_components(ax1, (jun_soft_e, jun_soft_f), (jun_g1_e, jun_g1_f), (jun_g2_e, jun_g2_f), (jun_pl_e, jun_pl_f))
draw_data(ax1, jun_pn_e, jun_pn_f, jun_pn_err, PN_DATA, 0.85, 1.1)
draw_data(ax1, jun_mos_e, jun_mos_f, jun_mos_err, HE_DATA, 0.8, 1.1)
draw_model(ax1, jun_pn_e, jun_pn_mod, PN_MODEL, 1.3)
draw_model(ax1, jun_mos_e, jun_mos_mod, HE_MODEL, 1.6)
style_axes(ax1, 'June 2018 observation', ['EPIC/PN', 'EPIC/MOS'], 561, 321, 0.765)

# December 2018
ax2 = fig.add_axes([110 / W, (H - 812.7) / H, 554 / W, 320.4 / H])
draw_components(ax2, (dec_soft_e, dec_soft_f), (dec_g1_e, dec_g1_f), (dec_g2_e, dec_g2_f), (dec_pl_e, dec_pl_f))
draw_data(ax2, dec_pn_e, dec_pn_f, dec_pn_err, PN_DATA, 0.8, 0.9)
draw_data(ax2, dec_nu_e, dec_nu_f, dec_nu_err, HE_DATA, 0.75, 0.9)
draw_model(ax2, dec_pn_e, dec_pn_mod, PN_MODEL, 2.0, steps=False)
draw_model(ax2, dec_nu_e, dec_nu_mod, HE_MODEL, 1.4)
style_axes(ax2, 'December 2018 observation', ['EPIC/PN', 'NuSTAR'], 554, 320.4, 0.782)

# May 2019
ax3 = fig.add_axes([110 / W, (H - 1267.7) / H, 554 / W, 321 / H])
draw_components(ax3, (may_soft_e, may_soft_f), (may_g1_e, may_g1_f), (may_g2_e, may_g2_f), (may_pl_e, may_pl_f))
draw_data(ax3, may_pn_e, may_pn_f, may_pn_err, PN_DATA, 0.8, 0.9)
draw_data(ax3, may_nu_e, may_nu_f, may_nu_err, HE_DATA, 0.75, 0.9)
draw_model(ax3, may_pn_e, may_pn_mod, PN_MODEL, 2.0, steps=False)
draw_model(ax3, may_nu_e, may_nu_mod, HE_MODEL, 1.4)
style_axes(ax3, 'May 2019 observation', ['EPIC/PN', 'NuSTAR'], 554, 321, 0.782)

fig.savefig('out.png', dpi=100)
